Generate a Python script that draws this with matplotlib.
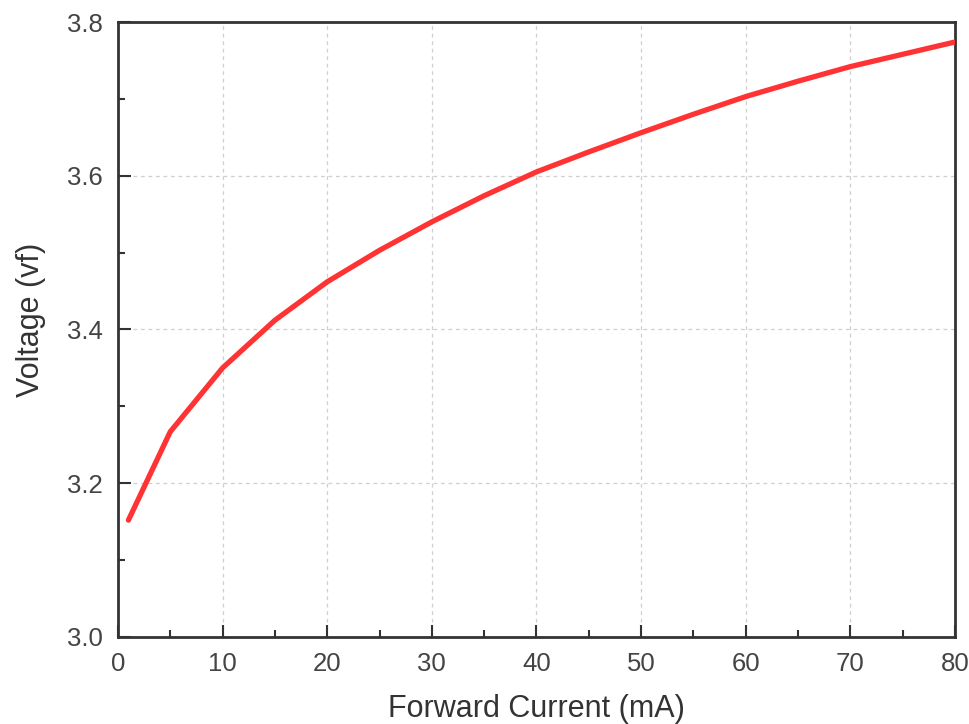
import matplotlib
matplotlib.use("Agg")
import matplotlib.pyplot as plt
from matplotlib.ticker import MultipleLocator

# =====================
# DATA
# =====================
current_ma = [1, 5, 10, 15, 20, 25, 30, 35, 40, 45, 50, 55, 60, 65, 70, 75, 80]
voltage_vf = [3.152, 3.267, 3.350, 3.412, 3.462, 3.503, 3.540, 3.574, 3.605,
              3.631, 3.656, 3.680, 3.703, 3.723, 3.742, 3.758, 3.774]

x_ticks = [0, 10, 20, 30, 40, 50, 60, 70, 80]
y_ticks = [3.0, 3.2, 3.4, 3.6, 3.8]

# =====================
# PLOT
# =====================
plt.rcParams['font.family'] = ['Liberation Sans', 'DejaVu Sans']

fig = plt.figure(figsize=(9.7, 7.24), dpi=100)
ax = fig.add_axes([0.1216, 0.1202, 0.8629, 0.8494])

ax.plot(current_ma, voltage_vf, color='#ff3333', linewidth=3.8,
        solid_capstyle='round', solid_joinstyle='round', zorder=3)

ax.set_xlim(0, 80)
ax.set_ylim(3.0, 3.8)
ax.set_xticks(x_ticks)
ax.set_yticks(y_ticks)
ax.set_yticklabels([f"{v:.1f}" for v in y_ticks])
ax.xaxis.set_minor_locator(MultipleLocator(5))
ax.yaxis.set_minor_locator(MultipleLocator(0.1))

ax.grid(True, which='major', linestyle=(0, (3, 3)), color='#cfcfcf', linewidth=0.9)
ax.set_axisbelow(True)

for s in ax.spines.values():
    s.set_color('#333333')
    s.set_linewidth(2)

ax.tick_params(which='both', direction='in', top=False, right=False,
               color='#333333', labelcolor='#444444', labelsize=18.5)
ax.tick_params(which='major', length=9, width=1.5)
ax.tick_params(which='minor', length=5, width=1.5)
ax.tick_params(axis='x', pad=11)
ax.tick_params(axis='y', pad=11)

ax.set_xlabel("Forward Current (mA)", fontsize=22, color='#333333', labelpad=13)
ax.set_ylabel("Voltage (vf)", fontsize=22, color='#333333', labelpad=15)
ax.yaxis.label.set_y(0.516)

plt.savefig("out.png", dpi=100)
plt.close()
